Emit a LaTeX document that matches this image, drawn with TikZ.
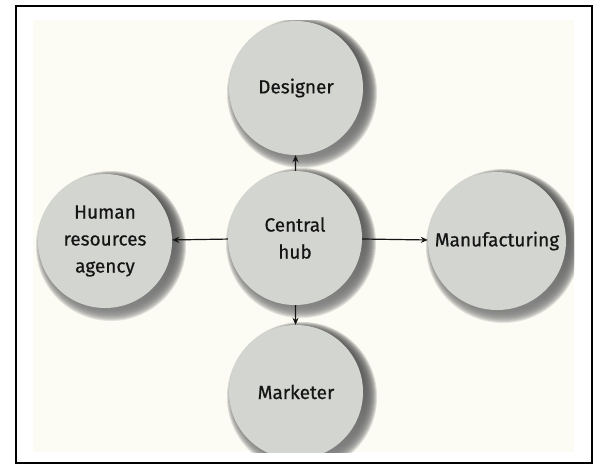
\documentclass[tikz,border=0pt]{standalone}
\usepackage{fontspec}
\setmainfont{Fira Sans}
\newfontfamily\labfont{Fira Sans}[FakeBold=0.6]
\usetikzlibrary{arrows.meta}
\pgfdeclarelayer{bg}
\pgfdeclarelayer{shad}
\pgfsetlayers{bg,shad,main}
\definecolor{paper}{HTML}{FDFCF4}
\definecolor{disc}{HTML}{D3D5D1}
\definecolor{ink}{HTML}{151515}
\definecolor{shade}{HTML}{1F242C}
\begin{document}
\begin{tikzpicture}[x=1pt,y=-1pt,
  disk/.style={circle,fill=disc,minimum size=134pt,inner sep=0pt,text=ink,
    align=center,font=\labfont\fontsize{19}{27}\selectfont},
  arr/.style={-{Stealth[length=7pt,width=6pt]},line width=1.2pt,draw=ink}]
\useasboundingbox (0,0) rectangle (597,464);
\begin{scope}
\clip (33,20) rectangle (574,452);
\node[disk] (des) at (296,88) {Designer};
\node[disk] (hub) at (295,238) {Central\\hub};
\node[disk] (hr) at (105,241) {Human\\resources\\agency};
\node[disk,minimum size=138pt] (man) at (497,241) {Manufacturing};
\node[disk] (mkt) at (296,392) {Marketer};
\end{scope}
\draw[arr] (hub) -- (des);
\draw[arr] (hub) -- (hr);
\draw[arr] (hub) -- (man);
\draw[arr] (hub) -- (mkt);
\begin{pgfonlayer}{bg}
\fill[white] (0,0) rectangle (597,464);
\fill[paper] (33,20) rectangle (574,452);
\draw[black,line width=2.5pt] (16,6) rectangle (592,463);
\end{pgfonlayer}
\begin{pgfonlayer}{shad}
\clip (33,20) rectangle (574,452);
\foreach \n/\r in {des/67,hub/67,hr/67,man/69,mkt/67}{
  \foreach \k in {1,...,12}{
    \pgfmathsetmacro{\rr}{\r+\k-4}
    \fill[shade,opacity=0.11] ([shift={(6,5)}]\n.center) circle[radius=\rr pt];
  }
}
\end{pgfonlayer}
\end{tikzpicture}
\end{document}
